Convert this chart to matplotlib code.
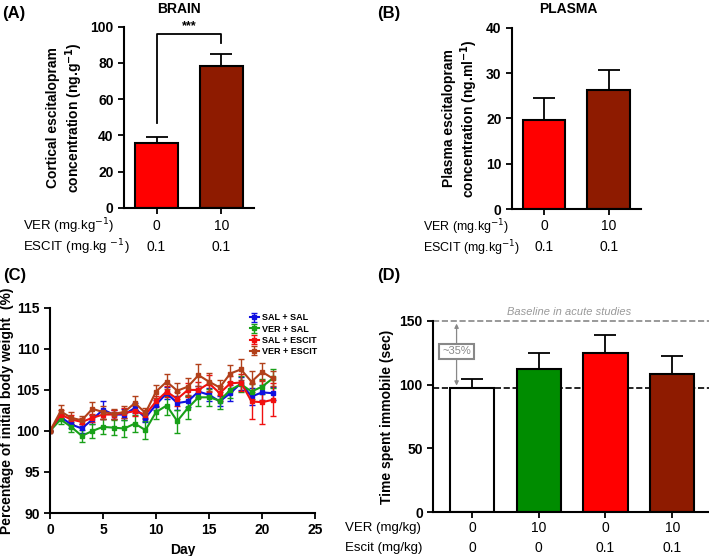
import numpy as np
import matplotlib
matplotlib.use('Agg')
from matplotlib import pyplot as plt

plt.rcParams['font.family'] = ['Liberation Sans', 'DejaVu Sans']
plt.rcParams['font.size'] = 8

# (A) brain, (B) plasma
ver_ab = ['0', '10']
escit_ab = ['0.1', '0.1']
brain_mean = [36.0, 78.5]
brain_sem = [3.0, 6.5]
plasma_mean = [19.7, 26.3]
plasma_sem = [4.7, 4.4]

# (C) body weight
days = list(range(22))
sal_sal = [100, 101.7, 100.8, 100.3, 101.4, 102.6, 102.0, 102.0, 102.8, 101.6, 103.2,
           104.6, 103.4, 103.6, 104.8, 104.4, 103.6, 104.6, 105.8, 104.2, 104.7, 104.6]
sal_sal_err = [0, 0.4, 0.5, 0.5, 0.5, 1.1, 0.6, 0.7, 0.6, 0.5, 0.6,
               0.7, 0.8, 0.7, 0.7, 0.8, 0.6, 1.0, 0.8, 1.0, 0.9, 0.8]
ver_sal = [100, 101.4, 100.5, 99.4, 100.0, 100.5, 100.4, 100.3, 100.9, 100.1, 102.3,
           103.1, 101.2, 102.8, 104.1, 104.1, 103.7, 105.0, 105.7, 104.8, 105.4, 106.4]
ver_sal_err = [0, 0.5, 0.6, 0.7, 0.8, 0.9, 0.9, 1.0, 1.0, 1.1, 0.8,
               1.1, 1.4, 1.4, 1.0, 1.0, 1.0, 1.0, 1.0, 0.9, 0.9, 1.2]
sal_escit = [100, 102.0, 101.4, 101.1, 101.6, 102.0, 102.0, 102.2, 102.4, 102.0, 103.6,
             104.8, 103.9, 105.0, 105.0, 105.8, 104.6, 105.8, 105.9, 103.6, 103.5, 103.8]
sal_escit_err = [0, 0.5, 0.6, 0.5, 0.5, 0.6, 0.5, 0.6, 0.6, 0.6, 0.7,
                 0.7, 0.8, 0.9, 1.0, 1.0, 0.9, 0.9, 1.0, 2.2, 2.7, 2.0]
ver_escit = [100, 102.4, 101.6, 101.3, 102.7, 102.3, 102.1, 102.3, 103.4, 102.2, 104.8,
             106.0, 104.9, 105.4, 106.8, 106.0, 105.3, 107.0, 107.5, 106.0, 107.2, 106.4]
ver_escit_err = [0, 0.8, 0.7, 0.5, 0.8, 0.8, 0.6, 0.7, 0.9, 0.6, 0.8,
                 0.9, 1.0, 1.0, 1.3, 1.1, 0.9, 1.0, 1.3, 1.3, 1.1, 0.9]

# (D) immobility
ver_d = ['0', '10', '0', '10']
escit_d = ['0', '0', '0.1', '0.1']
immob_mean = [97.0, 112.0, 124.5, 108.5]
immob_sem = [7.0, 13.0, 14.5, 14.0]
acute_baseline = 150

RED = '#FF0000'
BROWN = '#8E1B00'
GREEN = '#008C00'

fig = plt.figure(figsize=(7.09, 5.56), dpi=100)


def style_axis(ax):
    for s in ['top', 'right']:
        ax.spines[s].set_visible(False)
    for s in ['left', 'bottom']:
        ax.spines[s].set_linewidth(1.5)
    ax.tick_params(width=1.3, length=4, labelsize=10)
    for lab in ax.get_yticklabels():
        lab.set_fontweight('bold')


def bar_panel(ax, means, sems, colors, ylim, yticks, ylabel):
    x = np.arange(len(means))
    ax.bar(x, means, width=0.66, color=colors, edgecolor='black', linewidth=1.5, zorder=2)
    ax.errorbar(x, means, yerr=[np.zeros(len(sems)), sems], fmt='none', ecolor='black',
                elinewidth=1.3, capsize=8, capthick=1.3, zorder=1)
    ax.set_ylim(*ylim)
    ax.set_yticks(yticks)
    ax.set_xticks(x)
    ax.set_xticklabels([])
    ax.set_ylabel(ylabel, fontweight='bold', fontsize=10)
    style_axis(ax)
    return x


def dose_rows(ax, x, row1, row2, y1, y2):
    trans = ax.get_xaxis_transform()
    # data x, figure y
    _, ya = ax.transAxes.inverted().transform(fig.transFigure.transform((0, y1)))
    _, yb = ax.transAxes.inverted().transform(fig.transFigure.transform((0, y2)))
    for xi, a, b in zip(x, row1, row2):
        ax.text(xi, ya, a, transform=trans, ha='center', va='center', fontsize=10, clip_on=False)
        ax.text(xi, yb, b, transform=trans, ha='center', va='center', fontsize=10, clip_on=False)


# ---- (A)
axA = fig.add_axes([0.175, 0.626, 0.183, 0.326])
x = bar_panel(axA, brain_mean, brain_sem, [RED, BROWN], (0, 100), [0, 20, 40, 60, 80, 100],
              'Cortical escitalopram\nconcentration (ng.g$^{\\mathbf{-1}}$)')
axA.set_xlim(-0.5, 1.5)
axA.plot([0, 0, 1, 1], [47, 96, 96, 91], color='black', lw=1.3, clip_on=False)
axA.text(0.5, 97, '***', ha='center', va='bottom', fontsize=9, fontweight='bold')
dose_rows(axA, x, ver_ab, escit_ab, 1 - 226 / 556, 1 - 247 / 556)
fig.text(0.2525, 0.984, 'BRAIN', fontweight='bold', fontsize=10, ha='center', va='center')
fig.text(0.032, 1 - 226 / 556, 'VER (mg.kg$^{-1}$)', ha='left', va='center', fontsize=9.5)
fig.text(0.032, 1 - 247 / 556, 'ESCIT (mg.kg $^{-1}$)', ha='left', va='center', fontsize=9.5)
fig.text(0.003, 0.975, '(A)', fontweight='bold', fontsize=12, va='center')

# ---- (B)
axB = fig.add_axes([0.722, 0.624, 0.182, 0.326])
x = bar_panel(axB, plasma_mean, plasma_sem, [RED, BROWN], (0, 40), [0, 10, 20, 30, 40],
              'Plasma escitalopram\nconcentration (ng.ml$^{\\mathbf{-1}}$)')
axB.set_xlim(-0.5, 1.5)
dose_rows(axB, x, ver_ab, escit_ab, 1 - 226 / 556, 1 - 247 / 556)
fig.text(0.801, 0.984, 'PLASMA', fontweight='bold', fontsize=10, ha='center', va='center')
fig.text(0.596, 1 - 227 / 556, 'VER (mg.kg$^{-1}$)', ha='left', va='center', fontsize=9)
fig.text(0.596, 1 - 248 / 556, 'ESCIT (mg.kg$^{-1}$)', ha='left', va='center', fontsize=9)
fig.text(0.532, 0.975, '(B)', fontweight='bold', fontsize=12, va='center')

# ---- (C)
axC = fig.add_axes([0.0705, 0.0773, 0.374, 0.369])
series = [('SAL + SAL', sal_sal, sal_sal_err, '#1010E0'),
          ('VER + SAL', ver_sal, ver_sal_err, '#18A018'),
          ('SAL + ESCIT', sal_escit, sal_escit_err, '#F01010'),
          ('VER + ESCIT', ver_escit, ver_escit_err, '#B2401A')]
for name, vals, errs, col in series:
    axC.errorbar(days, vals, yerr=errs, color=col, lw=1.5, marker='s', ms=3,
                 capsize=2.5, elinewidth=1.0, capthick=1.0, label=name)
axC.set_xlim(0, 25)
axC.set_ylim(90, 115)
axC.set_xticks([0, 5, 10, 15, 20, 25])
axC.set_yticks([90, 95, 100, 105, 110, 115])
axC.set_xlabel('Day', fontweight='bold', fontsize=10)
axC.set_ylabel('Percentage of initial body weight  (%)', fontweight='bold', fontsize=10, labelpad=2)
style_axis(axC)
for lab in axC.get_xticklabels():
    lab.set_fontweight('bold')
leg = axC.legend(loc='upper right', bbox_to_anchor=(1.03, 1.0), frameon=False, fontsize=6.5,
                 handlelength=1.0, handletextpad=0.4, labelspacing=0.25, borderaxespad=0.2)
for t in leg.get_texts():
    t.set_fontweight('bold')
fig.text(0.005, 0.505, '(C)', fontweight='bold', fontsize=12, va='center')

# ---- (D)
axD = fig.add_axes([0.611, 0.079, 0.389, 0.344])
x = bar_panel(axD, immob_mean, immob_sem, ['white', GREEN, RED, BROWN], (0, 150), [0, 50, 100, 150],
              'Time spent immobile (sec)')
axD.set_xlim(-0.58, 3.55)
axD.axhline(acute_baseline, color='#888888', ls='--', lw=1.2, clip_on=False, zorder=0)
axD.axhline(immob_mean[0], color='black', ls='--', lw=1.2, zorder=0)
axD.text(1.45, acute_baseline + 3, 'Baseline in acute studies', color='#999999', style='italic',
         ha='center', va='bottom', fontsize=8)
axD.annotate('', xy=(-0.23, acute_baseline), xytext=(-0.23, immob_mean[0]),
             arrowprops=dict(arrowstyle='<|-|>', color='#888888', lw=0.9, mutation_scale=6))
axD.text(-0.23, 126, '~35%', ha='center', va='center', color='#888888', fontsize=8,
         bbox=dict(boxstyle='square,pad=0.25', fc='white', ec='#888888', lw=1.5))
dose_rows(axD, x, ver_d, escit_d, 1 - 528 / 556, 1 - 548 / 556)
fig.text(0.487, 1 - 528 / 556, 'VER (mg/kg)', ha='left', va='center', fontsize=9.5)
fig.text(0.487, 1 - 548 / 556, 'Escit (mg/kg)', ha='left', va='center', fontsize=9.5)
fig.text(0.532, 0.505, '(D)', fontweight='bold', fontsize=12, va='center')

fig.savefig('out.png', dpi=100)
